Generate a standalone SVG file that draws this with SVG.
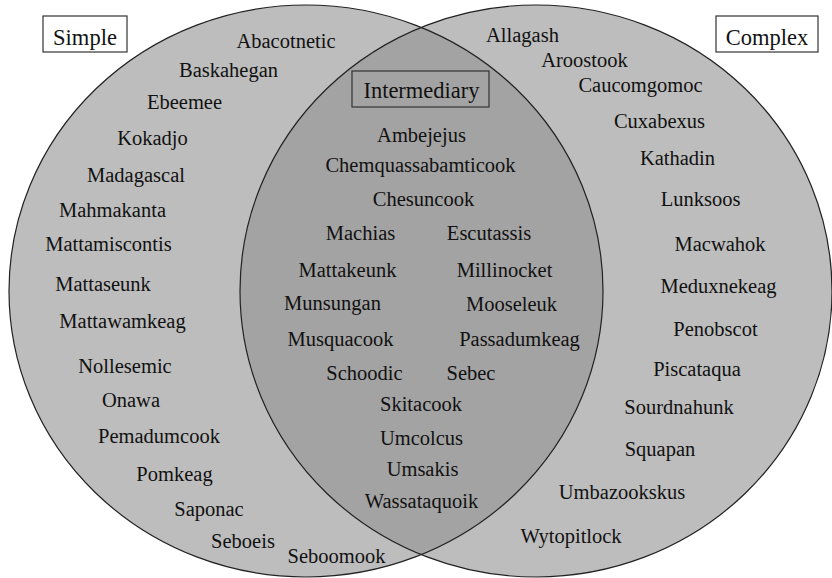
<svg xmlns="http://www.w3.org/2000/svg" width="832" height="578" viewBox="0 0 832 578">
<style>
.lbl{font-family:'Liberation Serif','Times New Roman',Times,'Nimbus Roman','Nimbus Roman No9 L',FreeSerif,Tinos,'DejaVu Serif','Noto Serif',serif;font-size:20.5px;fill:#111;text-anchor:middle}
.hdr{font-family:'Liberation Serif','Times New Roman',Times,'Nimbus Roman','Nimbus Roman No9 L',FreeSerif,Tinos,'DejaVu Serif','Noto Serif',serif;font-size:22.5px;fill:#111;text-anchor:middle}
.box{stroke:#333;stroke-width:1.2}
</style>
<defs>
<clipPath id="clipLeft"><ellipse cx="306" cy="291" rx="297" ry="286"/></clipPath>
</defs>
<rect width="832" height="578" fill="#ffffff"/>
<g id="sets">
<ellipse id="simple-set" cx="306" cy="291" rx="297" ry="286" fill="#bdbdbd"/>
<ellipse id="complex-set" cx="536" cy="291" rx="296" ry="286" fill="#bdbdbd"/>
<ellipse id="intersection" cx="536" cy="291" rx="296" ry="286" fill="#a3a3a3" clip-path="url(#clipLeft)"/>
<ellipse cx="306" cy="291" rx="297" ry="286" fill="none" stroke="#222" stroke-width="1.2"/>
<ellipse cx="536" cy="291" rx="296" ry="286" fill="none" stroke="#222" stroke-width="1.2"/>
</g>
<g id="simple-title">
<rect class="box" x="43" y="16" width="84" height="36" fill="#ffffff"/>
<text class="hdr" x="85" y="45">Simple</text>
</g>
<g id="complex-title">
<rect class="box" x="716" y="16" width="102" height="36" fill="#ffffff"/>
<text class="hdr" x="767" y="45">Complex</text>
</g>
<g id="intermediary-title">
<rect class="box" x="352" y="71" width="137" height="36" fill="none"/>
<text class="hdr" x="421.5" y="98">Intermediary</text>
</g>
<g id="simple-items">
<text class="lbl" x="286" y="48">Abacotnetic</text>
<text class="lbl" x="228.5" y="77">Baskahegan</text>
<text class="lbl" x="184.5" y="109">Ebeemee</text>
<text class="lbl" x="152.5" y="145">Kokadjo</text>
<text class="lbl" x="136" y="182">Madagascal</text>
<text class="lbl" x="112.5" y="217">Mahmakanta</text>
<text class="lbl" x="108.5" y="251">Mattamiscontis</text>
<text class="lbl" x="103" y="291">Mattaseunk</text>
<text class="lbl" x="122.5" y="328">Mattawamkeag</text>
<text class="lbl" x="125" y="373">Nollesemic</text>
<text class="lbl" x="131" y="407">Onawa</text>
<text class="lbl" x="159" y="443">Pemadumcook</text>
<text class="lbl" x="174.5" y="481">Pomkeag</text>
<text class="lbl" x="209" y="516">Saponac</text>
<text class="lbl" x="243" y="548">Seboeis</text>
<text class="lbl" x="336.5" y="563">Seboomook</text>
</g>
<g id="intermediary-items">
<text class="lbl" x="421.5" y="142">Ambejejus</text>
<text class="lbl" x="420.5" y="172">Chemquassabamticook</text>
<text class="lbl" x="423.5" y="206">Chesuncook</text>
<text class="lbl" x="360.5" y="240">Machias</text>
<text class="lbl" x="489" y="240">Escutassis</text>
<text class="lbl" x="347.5" y="277">Mattakeunk</text>
<text class="lbl" x="504.5" y="277">Millinocket</text>
<text class="lbl" x="332.5" y="310">Munsungan</text>
<text class="lbl" x="511.5" y="311">Mooseleuk</text>
<text class="lbl" x="340.5" y="346">Musquacook</text>
<text class="lbl" x="519.5" y="346">Passadumkeag</text>
<text class="lbl" x="364.5" y="380">Schoodic</text>
<text class="lbl" x="471" y="380">Sebec</text>
<text class="lbl" x="421" y="411">Skitacook</text>
<text class="lbl" x="421.5" y="445">Umcolcus</text>
<text class="lbl" x="422.5" y="476">Umsakis</text>
<text class="lbl" x="421.5" y="508">Wassataquoik</text>
</g>
<g id="complex-items">
<text class="lbl" x="522.5" y="42">Allagash</text>
<text class="lbl" x="584.5" y="67">Aroostook</text>
<text class="lbl" x="640.5" y="92">Caucomgomoc</text>
<text class="lbl" x="659.5" y="128">Cuxabexus</text>
<text class="lbl" x="677.5" y="165">Kathadin</text>
<text class="lbl" x="700.5" y="206">Lunksoos</text>
<text class="lbl" x="720" y="251">Macwahok</text>
<text class="lbl" x="718.5" y="293">Meduxnekeag</text>
<text class="lbl" x="715.5" y="336">Penobscot</text>
<text class="lbl" x="697" y="376">Piscataqua</text>
<text class="lbl" x="679" y="414">Sourdnahunk</text>
<text class="lbl" x="660" y="456">Squapan</text>
<text class="lbl" x="622" y="499">Umbazookskus</text>
<text class="lbl" x="571" y="543">Wytopitlock</text>
</g>
</svg>
